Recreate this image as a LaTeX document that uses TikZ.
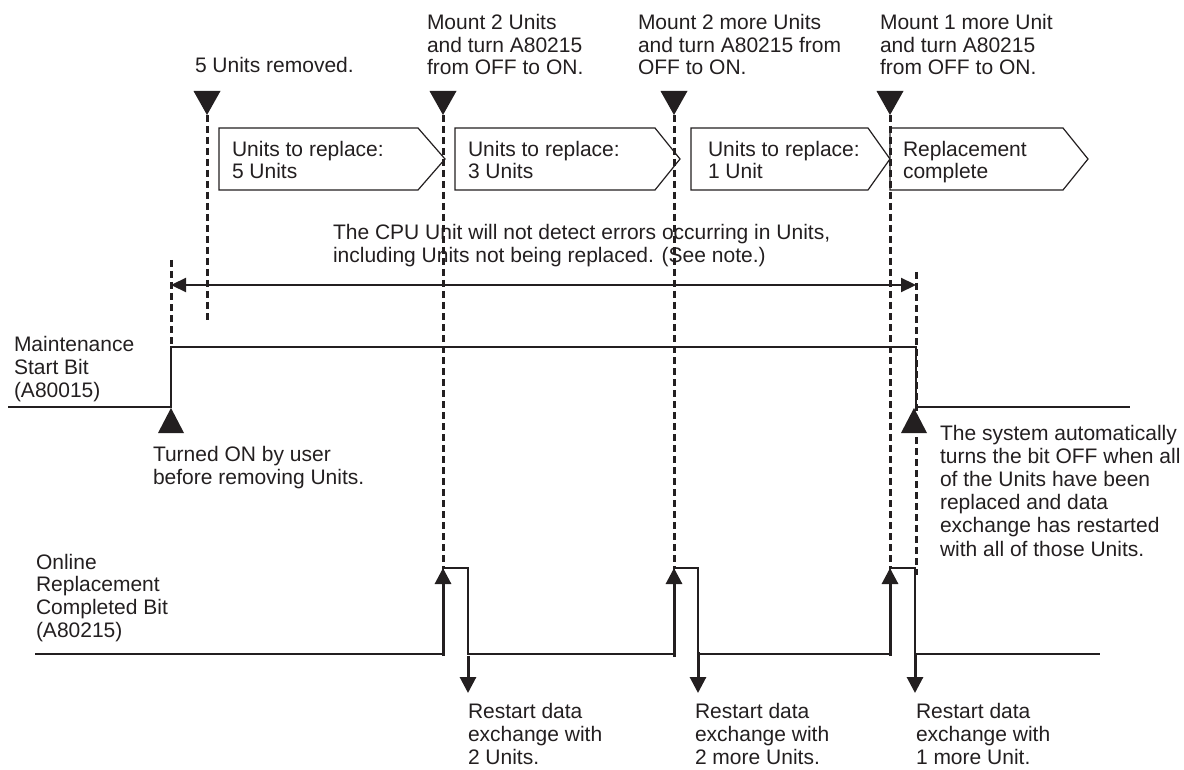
\documentclass[tikz,border=0pt]{standalone}
\usepackage{fontspec}
\setmainfont{Liberation Sans}
\usetikzlibrary{arrows.meta}
\definecolor{ink}{RGB}{35,31,32}
\begin{document}
\begin{tikzpicture}[x=1pt,y=-1pt,
  every node/.style={inner sep=0pt,outer sep=0pt,text=ink},
  txt/.style={anchor=base west,align=left,font=\fontsize{21pt}{22.6pt}\selectfont},
  sig/.style={draw=ink,line width=1.5pt,line join=miter},
  dsh/.style={draw=ink,line width=3pt,dash pattern=on 7pt off 4pt},
  tri/.style={fill=ink,draw=none},
  boxp/.style={draw=ink,line width=1.2pt,fill=white},
  thick arrow/.style={draw=ink,line width=3pt,-{Triangle[length=16pt,width=16pt]}},
  dbl/.style={draw=ink,line width=2.2pt,{Triangle[length=15pt,width=14pt]}-{Triangle[length=15pt,width=14pt]}}
]
\useasboundingbox (0,0) rectangle (1184,770);

% ---- key coordinates
\coordinate (t1) at (207,115);
\coordinate (t2) at (443,115);
\coordinate (t3) at (674,115);
\coordinate (t4) at (890,115);
\coordinate (d1e) at (207,322);
\coordinate (d2e) at (443,568);
\coordinate (d3e) at (674,568);
\coordinate (d4e) at (890,568);
\coordinate (s0) at (171,260);
\coordinate (s0e) at (171,347);
\coordinate (s5) at (916,272);
\coordinate (s5e) at (916,575);
\coordinate (aL) at (171,285);
\coordinate (aR) at (916,285);

% ---- boxes (pentagons)
\draw[boxp] (219,128) -- (418,128) -- (445,159) -- (418,190) -- (219,190) -- cycle;
\draw[boxp] (455,128) -- (655,128) -- (680,159) -- (655,190) -- (455,190) -- cycle;
\draw[boxp] (691,128) -- (868,128) -- (890,159) -- (868,190) -- (691,190) -- cycle;
\draw[boxp] (890,128) -- (1063,128) -- (1088,159) -- (1063,190) -- (890,190) -- cycle;

% ---- dashed verticals
\draw[dsh] (t1) -- (d1e);
\draw[dsh] (t2) -- (d2e);
\draw[dsh] (t3) -- (d3e);
\draw[dsh] (t4) -- (d4e);
\draw[dsh] (s0) -- (s0e);
\draw[dsh] (s5) -- (s5e);

% ---- top triangles
\foreach \p in {t1,t2,t3,t4}{
  \fill[tri] (\p) ++(-13.5,-24) -- ++(27,0) -- (\p) -- cycle;
}

% ---- double arrow
\draw[dbl] (aL) -- (aR);

% ---- Maintenance Start Bit signal
\coordinate (m0) at (8,407);
\coordinate (m1) at (171,407);
\coordinate (m2) at (171,347);
\coordinate (m3) at (916,347);
\coordinate (m4) at (916,407);
\coordinate (m5) at (1130,407);
\draw[sig] (m0) -- (m1) -- (m2) -- (m3) -- (m4) -- (m5);

% ---- up triangles under MSB
\coordinate (u1) at (171,408);
\coordinate (u2) at (914,408);
\foreach \p in {u1,u2}{
  \fill[tri] (\p) -- ++(13,25) -- ++(-26,0) -- cycle;
}

% ---- Online Replacement Completed Bit signal
\coordinate (r0) at (35,654);
\coordinate (r1) at (443,654);
\coordinate (r2) at (443,568);
\coordinate (r3) at (468,568);
\coordinate (r4) at (468,654);
\coordinate (r5) at (674,654);
\coordinate (r6) at (674,568);
\coordinate (r7) at (698,568);
\coordinate (r8) at (698,654);
\coordinate (r9) at (890,654);
\coordinate (r10) at (890,568);
\coordinate (r11) at (915,568);
\coordinate (r12) at (915,654);
\coordinate (r13) at (1100,654);
\draw[sig] (r0) -- (r1) -- (r2) -- (r3) -- (r4) -- (r5) -- (r6) -- (r7) -- (r8) -- (r9) -- (r10) -- (r11) -- (r12) -- (r13);

% ---- thick arrows
\coordinate (ua1) at (443,656);
\coordinate (ua2) at (674,657);
\coordinate (ua3) at (890,656);
\coordinate (da1s) at (468,656);
\coordinate (da1e) at (468,693);
\coordinate (da2s) at (698,652);
\coordinate (da2e) at (698,693);
\coordinate (da3s) at (915,655);
\coordinate (da3e) at (915,693);
\draw[thick arrow] (ua1) -- (r2);
\draw[thick arrow] (ua2) -- (r6);
\draw[thick arrow] (ua3) -- (r10);
\draw[thick arrow] (da1s) -- (da1e);
\draw[thick arrow] (da2s) -- (da2e);
\draw[thick arrow] (da3s) -- (da3e);

% ---- texts (anchor: baseline of the last line)
\node[txt] (l1) at (195,73) {5 Units removed.};
\node[txt] (l2) at (427,75) {Mount 2 Units\\and turn A80215\\from OFF to ON.};
\node[txt] (l3) at (638,75) {Mount 2 more Units\\and turn A80215 from\\OFF to ON.};
\node[txt] (l4) at (880,75) {Mount 1 more Unit\\and turn A80215\\from OFF to ON.};

\node[txt] (b1) at (232,179) {Units to replace:\\5 Units};
\node[txt] (b2) at (468,179) {Units to replace:\\3 Units};
\node[txt] (b3) at (708,179) {Units to replace:\\1 Unit};
\node[txt] (b4) at (903,179) {Replacement\\complete};

\node[txt] (note) at (333,262) {The CPU Unit will not detect errors occurring in Units,\\including Units not being replaced. (See note.)};

\node[txt] (msb) at (14,397) {Maintenance\\Start Bit\\(A80015)};
\node[txt] (on) at (153,484) {Turned ON by user\\before removing Units.};
\node[txt,font=\fontsize{21pt}{23.2pt}\selectfont] (off) at (940,556) {The system automatically\\turns the bit OFF when all\\of the Units have been\\replaced and data\\exchange has restarted\\with all of those Units.};

\node[txt] (orc) at (36,637) {Online\\Replacement\\Completed Bit\\(A80215)};

\node[txt] (x1) at (468,764) {Restart data\\exchange with\\2 Units.};
\node[txt] (x2) at (695,764) {Restart data\\exchange with\\2 more Units.};
\node[txt] (x3) at (916,764) {Restart data\\exchange with\\1 more Unit.};
\end{tikzpicture}
\end{document}
